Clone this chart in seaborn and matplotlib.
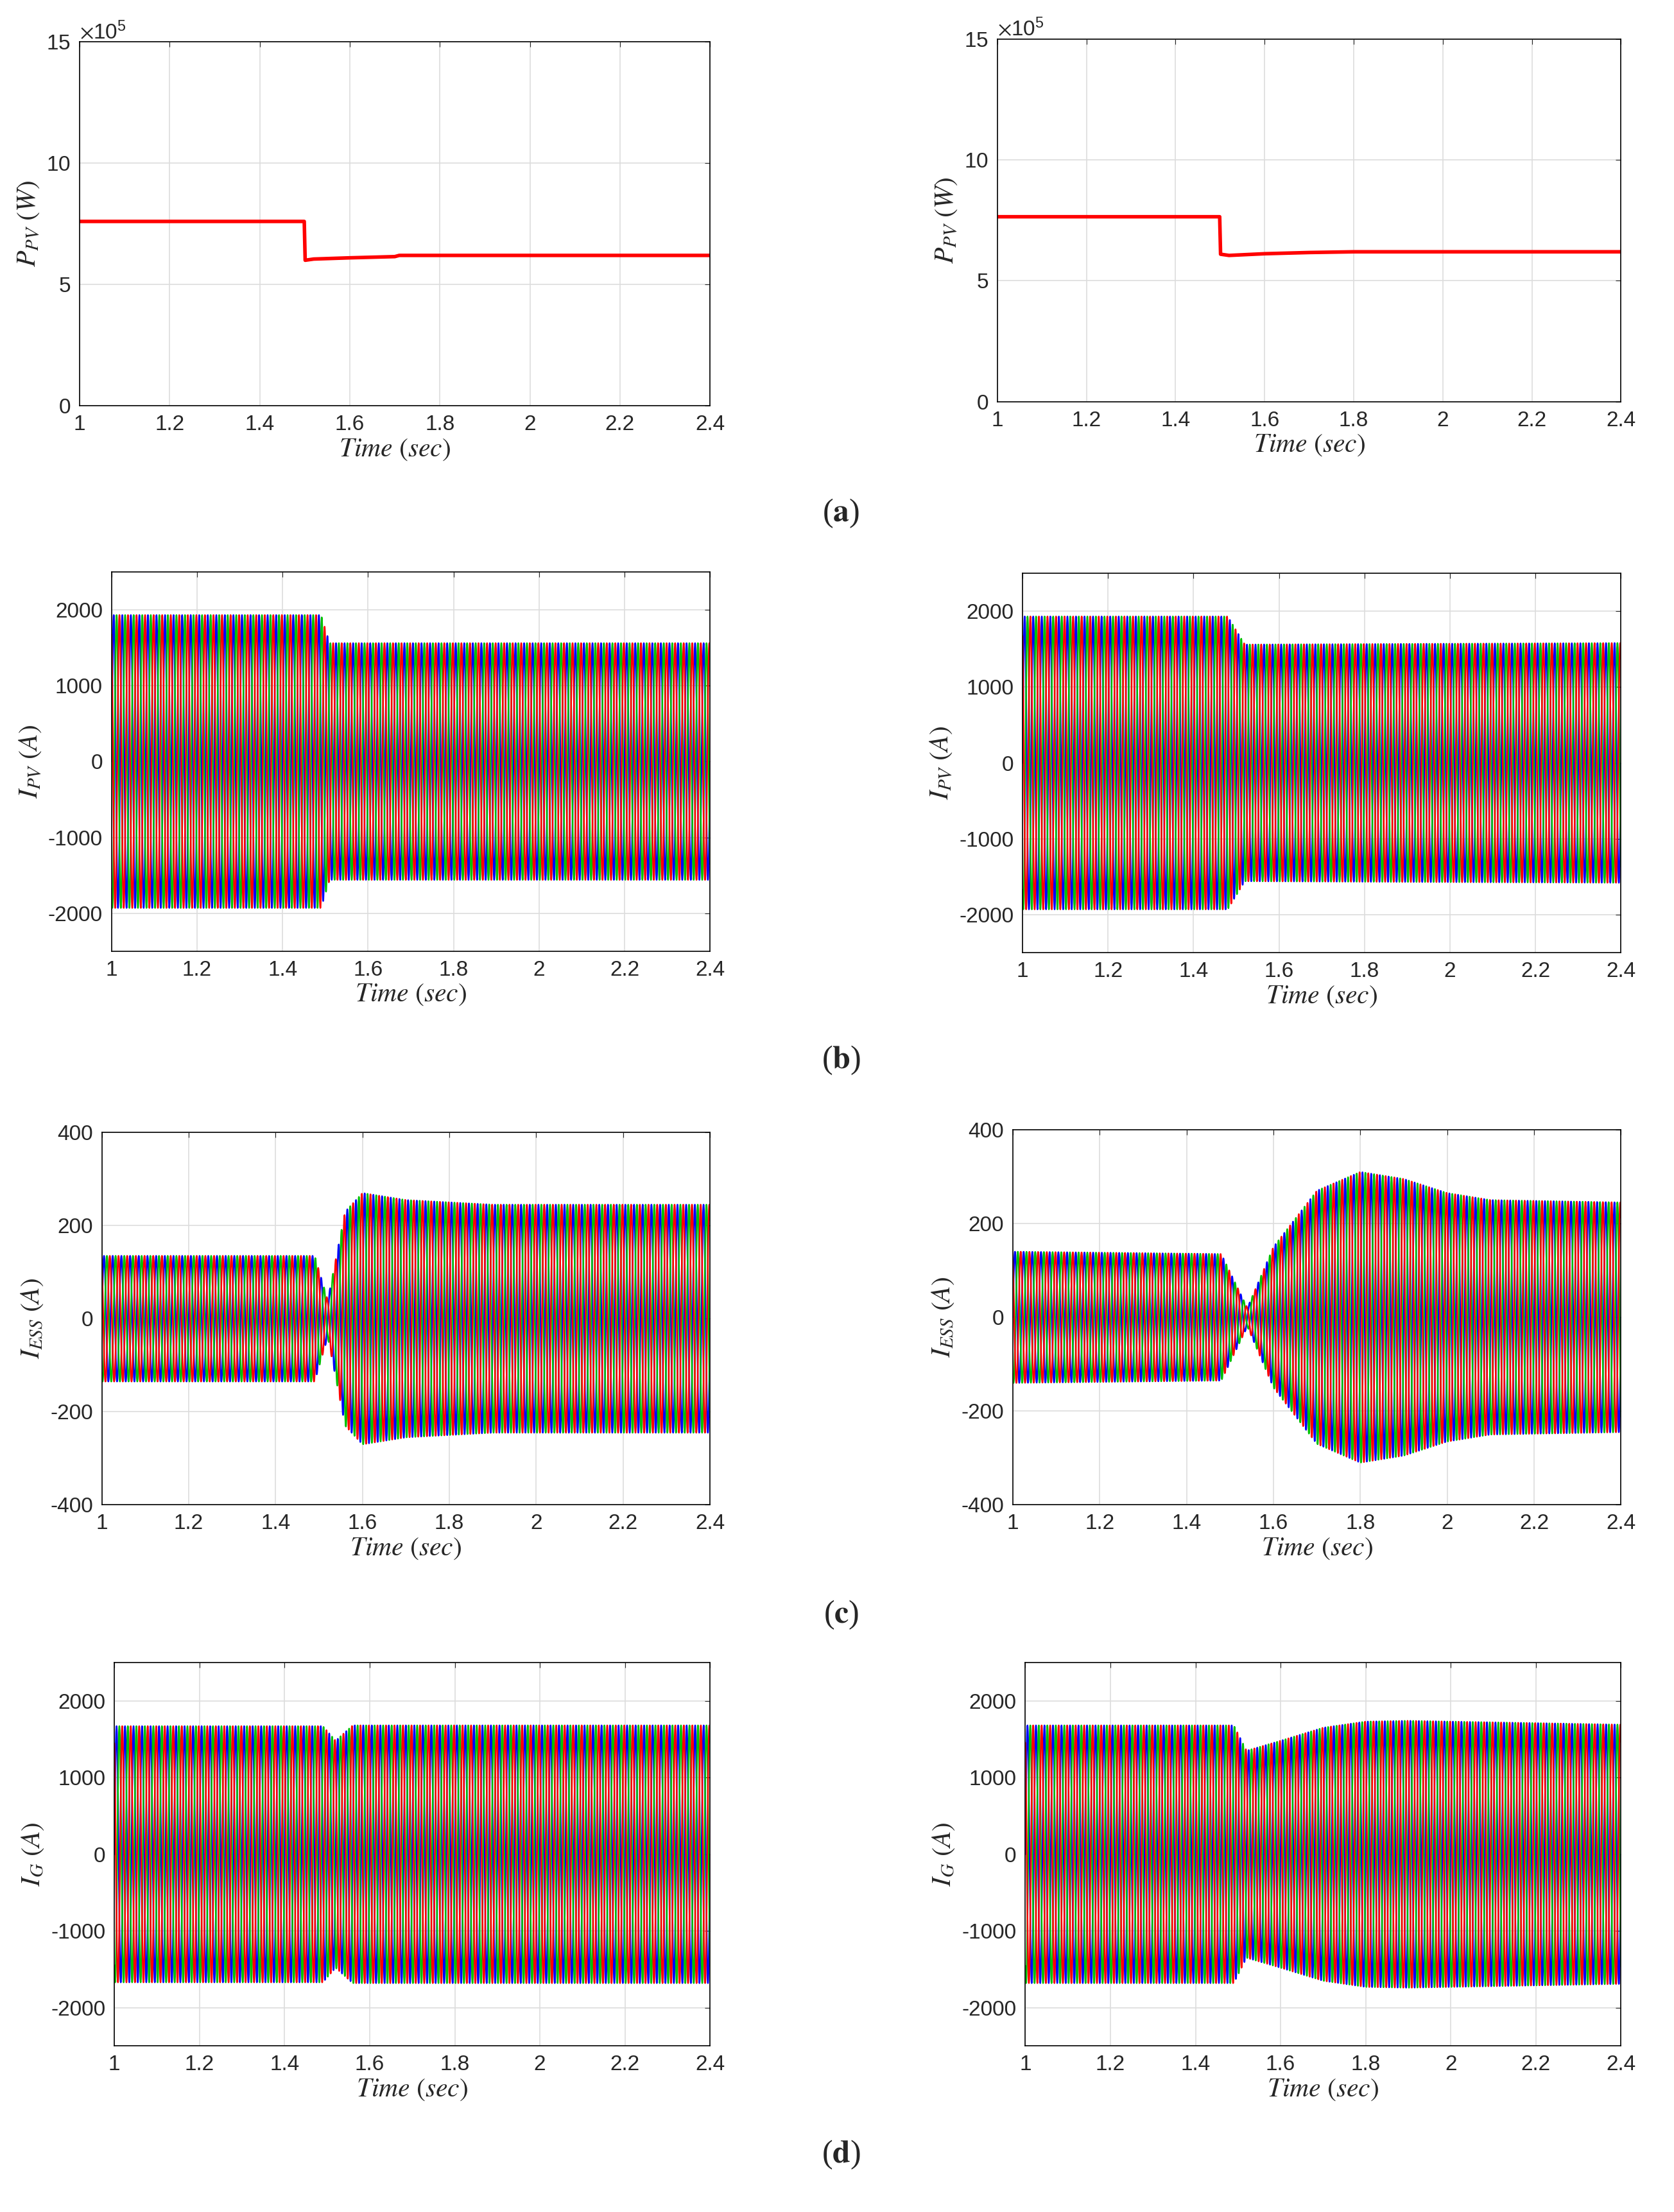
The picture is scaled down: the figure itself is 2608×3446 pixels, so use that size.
import numpy as np
import matplotlib
matplotlib.use("Agg")
import matplotlib.pyplot as plt
import seaborn as sns
from matplotlib.ticker import ScalarFormatter

sns.set_style("whitegrid")
plt.rcParams['font.family'] = ['Liberation Sans', 'DejaVu Sans']
plt.rcParams['mathtext.fontset'] = 'stix'
plt.rcParams['axes.unicode_minus'] = False

# ---- data ----
t_ppv = [1.0, 1.499, 1.501, 1.52, 1.6, 1.7, 1.71, 2.4]
ppv_left = [7.6e5, 7.6e5, 6.0e5, 6.05e5, 6.1e5, 6.15e5, 6.2e5, 6.2e5]
t_ppv_r = [1.0, 1.499, 1.501, 1.52, 1.6, 1.7, 1.8, 2.4]
ppv_right = [7.65e5, 7.65e5, 6.1e5, 6.05e5, 6.12e5, 6.17e5, 6.2e5, 6.2e5]

# amplitude envelopes of the three-phase currents (A)
t_ipv = [1.0, 1.49, 1.51, 2.4]
ipv_left = [1930, 1930, 1560, 1560]
t_ipv_r = [1.0, 1.48, 1.52, 2.4]
ipv_right = [1930, 1930, 1560, 1580]

t_iess = [1.0, 1.49, 1.52, 1.56, 1.6, 1.7, 1.9, 2.4]
iess_left = [135, 135, 40, 230, 270, 255, 245, 245]
t_iess_r = [1.0, 1.48, 1.54, 1.6, 1.7, 1.8, 1.9, 2.0, 2.1, 2.4]
iess_right = [140, 135, 20, 150, 270, 310, 295, 265, 250, 245]

t_ig = [1.0, 1.49, 1.52, 1.56, 2.4]
ig_left = [1670, 1670, 1480, 1680, 1680]
t_ig_r = [1.0, 1.49, 1.52, 1.6, 1.7, 1.8, 1.9, 2.1, 2.4]
ig_right = [1680, 1680, 1350, 1480, 1650, 1730, 1740, 1720, 1690]

xticks = [1, 1.2, 1.4, 1.6, 1.8, 2, 2.2, 2.4]
xtick_labels = ['1', '1.2', '1.4', '1.6', '1.8', '2', '2.2', '2.4']
panel_letters = ['a', 'b', 'c', 'd']

W, H = 1200, 1586
fig = plt.figure(figsize=(26.08, 34.46), dpi=100)


def add_ax(x0, y0, x1, y1):
    return fig.add_axes([x0 / W, 1 - y1 / H, (x1 - x0) / W, (y1 - y0) / H])


def style(ax, ylim, yticks, ylabel):
    ax.set_xlim(1, 2.4)
    ax.set_ylim(*ylim)
    ax.set_xticks(xticks)
    ax.set_xticklabels(xtick_labels)
    ax.set_yticks(yticks)
    ax.tick_params(labelsize=24, length=6, direction='in', top=True, right=True, pad=10)
    ax.grid(True, color='#dddddd', linewidth=1.2)
    for s in ax.spines.values():
        s.set_color('black')
        s.set_linewidth(1.2)
    ax.set_xlabel(r'$Time\ (sec)$', fontsize=30, labelpad=2)
    ax.set_ylabel(ylabel, fontsize=30, labelpad=6)


tt = np.linspace(1.0, 2.4, 24000)


def three_phase(ax, tk, amp):
    env = np.interp(tt, tk, amp)
    for k, col in enumerate(['#0000ff', '#00c000', '#ff0000']):
        ph = 2 * np.pi * 50 * tt - k * 2 * np.pi / 3
        sns.lineplot(x=tt, y=env * np.sin(ph), ax=ax, color=col, linewidth=1.8,
                     estimator=None, sort=False)


# (a)
for (x0, y0, x1, y1), tk, vals in [((57, 30, 509, 291), t_ppv, ppv_left),
                                   ((715, 28, 1162, 288), t_ppv_r, ppv_right)]:
    ax = add_ax(x0, y0, x1, y1)
    sns.lineplot(x=tk, y=vals, ax=ax, color='red', linewidth=4, estimator=None, sort=False)
    style(ax, (0, 15e5), [0, 5e5, 10e5, 15e5], r'$P_{PV}\ (W)$')
    fmt = ScalarFormatter(useMathText=True)
    fmt.set_powerlimits((5, 5))
    ax.yaxis.set_major_formatter(fmt)
    ax.yaxis.get_offset_text().set_fontsize(24)

# (b)
for (box, tk, vals) in [((80, 410, 509, 682), t_ipv, ipv_left),
                        ((733, 411, 1162, 683), t_ipv_r, ipv_right)]:
    ax = add_ax(*box)
    three_phase(ax, tk, vals)
    style(ax, (-2500, 2500), [-2000, -1000, 0, 1000, 2000], r'$I_{PV}\ (A)$')

# (c)
for (box, tk, vals) in [((73, 812, 509, 1079), t_iess, iess_left),
                        ((726, 810, 1162, 1079), t_iess_r, iess_right)]:
    ax = add_ax(*box)
    three_phase(ax, tk, vals)
    style(ax, (-400, 400), [-400, -200, 0, 200, 400], r'$I_{ESS}\ (A)$')

# (d)
for (box, tk, vals) in [((82, 1192, 509, 1467), t_ig, ig_left),
                        ((735, 1192, 1162, 1467), t_ig_r, ig_right)]:
    ax = add_ax(*box)
    three_phase(ax, tk, vals)
    style(ax, (-2500, 2500), [-2000, -1000, 0, 1000, 2000], r'$I_{G}\ (A)$')

for lab, y in zip(panel_letters, [368, 760, 1158, 1545]):
    fig.text(603 / W, 1 - y / H, '(' + r'$\mathbf{' + lab + '}$' + ')', ha='center',
             va='center', fontsize=36, family='Liberation Serif')

fig.savefig('out.png', dpi=100, facecolor='white')
